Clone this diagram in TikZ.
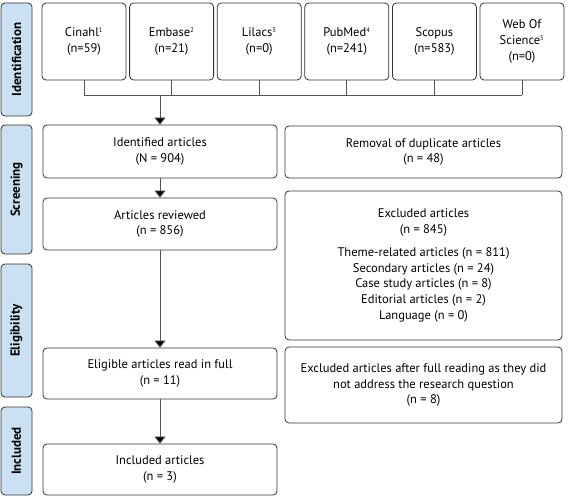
\documentclass[tikz,border=0pt]{standalone}
\usepackage{fontspec}
\setmainfont{PT Sans}
\usetikzlibrary{arrows.meta}
\definecolor{sideblue}{HTML}{C9E1F2}
\definecolor{lineg}{HTML}{555555}
\definecolor{boxg}{HTML}{333333}
\tikzset{
  box/.style={draw=boxg, rounded corners=4pt, line width=0.8pt, align=center, inner sep=1pt, font=\fontsize{12.5}{15.7}\selectfont, text=black},
  sidebox/.style={draw=boxg, fill=sideblue, rounded corners=4pt, line width=0.8pt, rotate=90, inner sep=0pt, font=\bfseries\fontsize{13}{14}\selectfont, minimum height=31pt},
  conn/.style={draw=lineg, line width=0.7pt},
  arr/.style={conn, -{Triangle[width=11pt,length=7pt,fill=black]}},
}
\newcommand{\sps}[1]{\textsuperscript{\fontsize{6.5}{6.5}\selectfont #1}}
\begin{document}
\begin{tikzpicture}[x=1pt,y=-1pt]
\useasboundingbox (0,0) rectangle (568,500);
% side labels
\node[sidebox, minimum width=113pt] (sid) at (16.5,59.5) {Identification};
\node[sidebox, minimum width=129pt] (sscr) at (16.5,189.5) {Screening};
\node[sidebox, minimum width=133pt] (selig) at (16.5,330.5) {Eligibility};
\node[sidebox, minimum width=88pt] (sinc) at (16.5,451) {Included};
% sources
\node[box, minimum width=84pt, minimum height=77pt] (c1) at (84,41.5) {Cinahl\sps{1}\\(n=59)};
\node[box, minimum width=84pt, minimum height=77pt] (c2) at (171.6,41.5) {Embase\sps{2}\\(n=21)};
\node[box, minimum width=84pt, minimum height=77pt] (c3) at (259.2,41.5) {Lilacs\sps{3}\\(n=0)};
\node[box, minimum width=84pt, minimum height=77pt] (c4) at (346.8,41.5) {PubMed\sps{4}\\(n=241)};
\node[box, minimum width=84pt, minimum height=77pt] (c5) at (434.4,41.5) {Scopus\\(n=583)};
\node[box, minimum width=84pt, minimum height=77pt] (c6) at (522,41.5) {Web Of\\Science\sps{5}\\(n=0)};
% main column
\node[box, minimum width=234pt, minimum height=53pt] (ident) at (160,151.5) {Identified articles\\(N = 904)};
\node[box, minimum width=234pt, minimum height=52pt] (rev) at (160,224) {Articles reviewed\\(n = 856)};
\node[box, minimum width=234pt, minimum height=51pt] (elig) at (160,373.5) {Eligible articles read in full\\(n = 11)};
\node[box, minimum width=234pt, minimum height=51pt] (inc) at (160,469.5) {Included articles\\(n = 3)};
% right column
\node[box, minimum width=277pt, minimum height=52pt] (dup) at (423.5,152) {Removal of duplicate articles\\(n = 48)};
\node[box, minimum width=277pt, minimum height=149pt] (exc) at (423.5,265.5) {Excluded articles\\(n = 845)\\[7pt]Theme-related articles (n = 811)\\Secondary articles (n = 24)\\Case study articles (n = 8)\\Editorial articles (n = 2)\\Language (n = 0)};
\node[box, minimum width=277pt, minimum height=76pt] (full) at (423.5,385) {Excluded articles after full reading as they did\\not address the research question\\(n = 8)};
% connectors
\coordinate (hl) at (84,95);
\coordinate (hr) at (522,95);
\coordinate (hm) at (160,95);
\foreach \c in {c1,c2,c3,c4,c5,c6} \draw[conn] (\c.south) -- (\c.south |- hl);
\draw[conn] (hl) -- (hr);
\draw[arr] (hm) -- (ident.north);
\draw[arr] (ident.south) -- (rev.north);
\draw[arr] (rev.south) -- (elig.north);
\draw[arr] (elig.south) -- (inc.north);
\end{tikzpicture}
\end{document}
